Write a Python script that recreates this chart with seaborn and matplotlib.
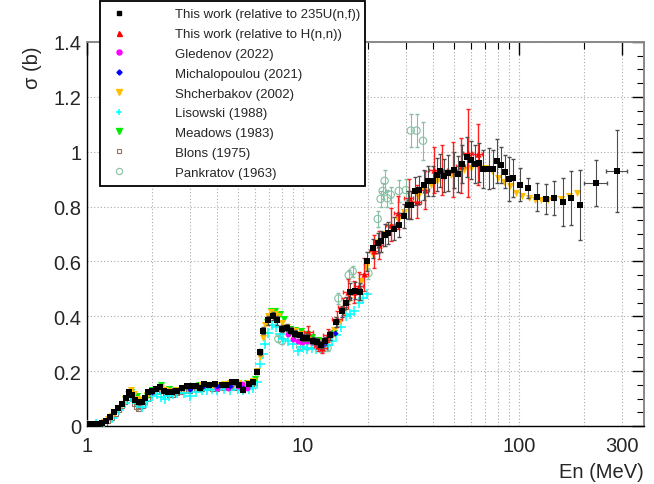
import numpy as np
import pandas as pd
import matplotlib
matplotlib.use("Agg")
import matplotlib.pyplot as plt
import matplotlib.ticker as mticker
from matplotlib.lines import Line2D
import seaborn as sns

# ---- data (E in MeV, sigma in b) ----
# This work (relative to 235U(n,f))
e_bk = [1.01, 1.06, 1.12, 1.17, 1.22, 1.28, 1.33, 1.39, 1.45, 1.52,
        1.57, 1.62, 1.67, 1.74, 1.80, 1.86, 1.92, 2.0, 2.09, 2.18,
        2.28, 2.38, 2.48, 2.62, 2.76, 2.91, 3.04, 3.2, 3.35, 3.49,
        3.68, 3.93, 4.23, 4.42, 4.7, 4.92, 5.07, 5.3, 5.6, 5.9,
        6.1, 6.35, 6.56, 6.9, 7.28, 7.6, 8.0, 8.47, 8.85, 9.2,
        9.7, 10.04, 10.5, 11.1, 11.6, 12.1, 12.6, 13.4, 14.3, 15.1,
        15.8, 16.6, 17.5, 18.3, 19.9, 21.2, 22.2, 22.9, 23.9, 24.9,
        26.3, 27.8, 29.3, 30.6, 31.7, 33.0, 34.4, 36.3, 37.8, 40.0,
        41.7, 43.3, 45.2, 47.2, 49.9, 52.0, 54.3, 57.4, 60.0, 62.6,
        65.4, 68.6, 72.6, 75.8, 79.1, 82.7, 86.3, 89.9, 93.9, 101,
        110, 121, 133, 145, 160, 175, 192, 228, 285]
s_bk = [0.007, 0.007, 0.007, 0.011, 0.018, 0.033, 0.051, 0.066, 0.081, 0.103,
        0.125, 0.113, 0.095, 0.088, 0.088, 0.103, 0.125, 0.128, 0.136, 0.143,
        0.128, 0.125, 0.125, 0.128, 0.139, 0.146, 0.146, 0.146, 0.139, 0.154,
        0.150, 0.154, 0.150, 0.148, 0.161, 0.161, 0.150, 0.132, 0.154, 0.161,
        0.198, 0.270, 0.348, 0.385, 0.400, 0.385, 0.355, 0.359, 0.348, 0.337,
        0.330, 0.322, 0.322, 0.311, 0.308, 0.297, 0.311, 0.330, 0.380, 0.418,
        0.447, 0.490, 0.494, 0.490, 0.600, 0.648, 0.667, 0.674, 0.696, 0.703,
        0.720, 0.733, 0.766, 0.806, 0.806, 0.857, 0.861, 0.879, 0.894, 0.894,
        0.916, 0.930, 0.912, 0.923, 0.934, 0.919, 0.956, 0.980, 0.970, 0.956,
        0.960, 0.938, 0.938, 0.938, 0.967, 0.952, 0.927, 0.900, 0.905, 0.879,
        0.868, 0.835, 0.828, 0.831, 0.817, 0.831, 0.806, 0.886, 0.930]
d_bk = [0.004, 0.004, 0.004, 0.004, 0.004, 0.005, 0.005, 0.005, 0.005, 0.006,
        0.006, 0.006, 0.006, 0.006, 0.006, 0.006, 0.006, 0.006, 0.006, 0.006,
        0.006, 0.006, 0.006, 0.006, 0.006, 0.006, 0.006, 0.006, 0.006, 0.006,
        0.006, 0.006, 0.006, 0.006, 0.006, 0.006, 0.006, 0.007, 0.007, 0.008,
        0.010, 0.012, 0.014, 0.015, 0.015, 0.015, 0.014, 0.014, 0.013, 0.013,
        0.013, 0.013, 0.013, 0.013, 0.013, 0.014, 0.015, 0.016, 0.018, 0.020,
        0.022, 0.030, 0.030, 0.032, 0.035, 0.035, 0.038, 0.038, 0.040, 0.040,
        0.042, 0.045, 0.045, 0.050, 0.050, 0.050, 0.050, 0.055, 0.055, 0.055,
        0.060, 0.060, 0.060, 0.065, 0.065, 0.065, 0.070, 0.073, 0.070, 0.070,
        0.070, 0.070, 0.075, 0.070, 0.080, 0.065, 0.060, 0.080, 0.070, 0.060,
        0.037, 0.050, 0.056, 0.062, 0.088, 0.100, 0.128, 0.085, 0.150]
xlo_bk = [0.0] * 107 + [28, 31]
xhi_bk = [0.0] * 107 + [29, 32]

# This work (relative to H(n,n))
e_rd = [10.6, 11.8, 12.3, 13.1, 14.4, 15.4, 16.1, 17.2, 18.1, 19.1, 21.3, 22.5,
        25.5, 27.7, 30.9, 33.6, 36.6, 40.4, 44.3, 49.5, 53.7, 57.9, 64.5]
s_rd = [0.344, 0.293, 0.285, 0.330, 0.390, 0.435, 0.490, 0.490, 0.510, 0.553, 0.637, 0.660,
        0.733, 0.777, 0.830, 0.817, 0.860, 0.934, 0.934, 0.934, 0.949, 0.996, 0.990]
d_rd = [0.020, 0.020, 0.020, 0.025, 0.030, 0.030, 0.045, 0.040, 0.050, 0.060, 0.060, 0.050,
        0.060, 0.060, 0.070, 0.060, 0.070, 0.085, 0.090, 0.100, 0.100, 0.160, 0.110]
dx_rd = [0.5, 0.6, 0.6, 0.65, 0.7, 0.8, 0.8, 0.9, 0.9, 1.0, 1.1, 1.1,
         1.3, 1.4, 1.5, 1.7, 1.8, 2.0, 2.2, 2.5, 2.7, 2.9, 3.2]

# Gledenov (2022)
e_gl = [4.0, 4.5, 5.0, 5.25, 5.5, 8.5, 9.0, 9.5, 9.9, 10.5, 11.0, 11.5]
s_gl = [0.140, 0.140, 0.145, 0.154, 0.140, 0.335, 0.318, 0.310, 0.308, 0.310, 0.305, 0.300]

# Michalopoulou (2021)
e_mi = [2.0, 2.5, 3.0, 3.4, 4.0, 4.6, 5.3, 12.5, 14.1, 16.3]
s_mi = [0.125, 0.130, 0.135, 0.143, 0.145, 0.145, 0.140, 0.300, 0.340, 0.465]

# Shcherbakov (2002)
e_sh = [1.0, 1.05, 1.1, 1.15, 1.2, 1.25, 1.3, 1.35, 1.4, 1.45, 1.5, 1.55, 1.6, 1.65,
        1.7, 1.75, 1.8, 1.9, 2.0, 2.1, 2.2, 2.3, 2.4, 2.5, 2.6, 2.8, 3.0, 3.2, 3.4,
        3.6, 3.8, 4.0, 4.3, 4.6, 5.0, 5.3, 5.6, 5.9, 6.1, 6.3, 6.5, 6.7, 6.9, 7.1,
        7.4, 7.7, 8.0, 8.4, 8.8, 9.2, 9.7, 10.2, 10.8, 11.4, 12.0, 12.6, 13.2, 13.9,
        14.7, 15.5, 16.4, 17.4, 18.5, 19.7, 21.0, 22.4, 24.0, 25.7, 27.5, 29.5, 31.7,
        34.0, 36.5, 39.2, 42.0, 45.0, 48.5, 52.0, 56.0, 60.0, 65.0, 70.0, 75.0, 80.0,
        85.0, 91.0, 97.0, 104.0, 111.0, 119.0, 127.0, 136.0, 146.0, 157.0, 170.0, 185.0]
s_sh = [0.005, 0.005, 0.006, 0.008, 0.014, 0.024, 0.038, 0.052, 0.066, 0.080, 0.100, 0.118, 0.130, 0.118,
        0.100, 0.095, 0.095, 0.112, 0.125, 0.135, 0.140, 0.130, 0.128, 0.128, 0.130, 0.138, 0.142, 0.145, 0.148,
        0.150, 0.150, 0.150, 0.152, 0.155, 0.155, 0.150, 0.155, 0.165, 0.200, 0.250, 0.320, 0.370, 0.400, 0.415,
        0.410, 0.400, 0.375, 0.360, 0.350, 0.345, 0.335, 0.325, 0.315, 0.305, 0.300, 0.305, 0.320, 0.350,
        0.380, 0.420, 0.460, 0.490, 0.530, 0.580, 0.630, 0.670, 0.700, 0.725, 0.750, 0.780, 0.810,
        0.840, 0.860, 0.880, 0.895, 0.905, 0.915, 0.925, 0.935, 0.940, 0.945, 0.940, 0.930, 0.905,
        0.890, 0.875, 0.850, 0.840, 0.830, 0.825, 0.824, 0.823, 0.826, 0.828, 0.838, 0.850]

# Lisowski (1988)
e_ls = [1.0, 1.1, 1.2, 1.3, 1.4, 1.5, 1.6, 1.7, 1.8, 1.9, 2.0, 2.1, 2.2, 2.3, 2.4, 2.5, 2.6,
        2.8, 3.0, 3.2, 3.4, 3.6, 3.8, 4.0, 4.3, 4.6, 5.0, 5.3, 5.6, 5.9, 6.15, 6.35, 6.5,
        6.7, 6.9, 7.2, 7.5, 7.8, 8.1, 8.5, 9.0, 9.5, 10.0, 10.5, 11.0, 11.5, 12.0, 12.5,
        13.0, 13.6, 14.2, 15.0, 15.8, 16.5, 17.3, 18.2, 19.0, 19.8]
s_ls = [0.005, 0.006, 0.010, 0.030, 0.060, 0.085, 0.105, 0.085, 0.070, 0.090, 0.110, 0.115, 0.105, 0.100, 0.110, 0.115, 0.120,
        0.120, 0.110, 0.125, 0.130, 0.130, 0.135, 0.130, 0.135, 0.130, 0.135, 0.130, 0.135, 0.140, 0.160, 0.227, 0.264,
        0.300, 0.340, 0.370, 0.360, 0.335, 0.318, 0.311, 0.300, 0.275, 0.289, 0.280, 0.286, 0.280, 0.285, 0.290,
        0.297, 0.311, 0.330, 0.360, 0.400, 0.410, 0.418, 0.447, 0.465, 0.480]

# Meadows (1983)
e_md = [1.5, 1.6, 1.7, 1.8, 1.9, 2.0, 2.2, 2.4, 2.6, 2.8, 3.0, 3.3, 3.6, 4.0, 4.5, 5.0, 5.5,
        6.0, 6.5, 6.8, 7.1, 7.4, 7.8, 8.2, 8.7, 9.2, 9.8, 10.4, 11.0, 11.7, 12.4, 13.2, 14.0]
s_md = [0.100, 0.125, 0.110, 0.095, 0.110, 0.130, 0.150, 0.135, 0.130, 0.140, 0.145, 0.148, 0.150, 0.150, 0.152, 0.155, 0.155,
        0.170, 0.330, 0.380, 0.420, 0.420, 0.410, 0.390, 0.355, 0.350, 0.345, 0.335, 0.325, 0.315, 0.310, 0.320, 0.340]

# Blons (1975)
e_bl = [1.0, 1.05, 1.1, 1.15, 1.2, 1.25, 1.3, 1.35, 1.4, 1.45, 1.5, 1.55, 1.6, 1.63, 1.66, 1.7,
        1.73, 1.76, 1.8, 1.85, 1.9, 1.95, 2.0, 2.1, 2.2, 2.3, 2.4, 2.5, 2.6, 2.7, 2.8, 2.9,
        3.0, 3.2, 3.4, 3.6, 3.8, 4.0, 4.2, 4.4, 4.6, 4.8, 5.0, 5.2, 5.4, 5.6, 5.8, 6.0]
s_bl = [0.003, 0.003, 0.004, 0.006, 0.010, 0.018, 0.030, 0.045, 0.060, 0.075, 0.090, 0.105, 0.120, 0.100, 0.080, 0.070,
        0.065, 0.070, 0.075, 0.090, 0.100, 0.115, 0.120, 0.125, 0.130, 0.120, 0.115, 0.115, 0.120, 0.125, 0.130, 0.130,
        0.130, 0.135, 0.135, 0.140, 0.135, 0.135, 0.140, 0.140, 0.140, 0.140, 0.145, 0.140, 0.145, 0.150, 0.155, 0.160]

# Pankratov (1963)
e_pk = [7.7, 8.0, 9.7, 10.5, 12.3, 13.0, 14.6, 16.3, 17.0, 20.1, 22.2, 22.9, 23.4, 23.9,
        24.6, 25.5, 27.8, 30.0, 31.6, 33.6, 36.0]
s_pk = [0.318, 0.310, 0.290, 0.290, 0.280, 0.285, 0.465, 0.550, 0.564, 0.557, 0.755, 0.828, 0.857, 0.894,
        0.830, 0.843, 0.857, 0.860, 1.077, 1.077, 1.040]
d_pk = [0.010, 0.010, 0.010, 0.010, 0.010, 0.010, 0.020, 0.020, 0.020, 0.020, 0.030, 0.030, 0.030, 0.040,
        0.030, 0.030, 0.040, 0.040, 0.060, 0.060, 0.070]

labels = ["This work (relative to 235U(n,f))", "This work (relative to H(n,n))",
          "Gledenov (2022)", "Michalopoulou (2021)", "Shcherbakov (2002)",
          "Lisowski (1988)", "Meadows (1983)", "Blons (1975)", "Pankratov (1963)"]
x_ticks = [1, 10, 100, 300]
x_tick_labels = ["1", "10", "100", "300"]

# ---- style ----
sns.set_theme(style="white")
plt.rcParams["font.family"] = ["Liberation Sans", "DejaVu Sans"]

c_orange = "#ffbf00"
c_brown = "#8c7363"
c_pank = "#86bfa3"

fig = plt.figure(figsize=(6.54, 4.85), dpi=100)
ax = fig.add_axes([87 / 654, 58 / 485, 557 / 654, 384 / 485])


def scatter(x, y, **kw):
    df = pd.DataFrame({"E": x, "s": y})
    sns.scatterplot(data=df, x="E", y="s", ax=ax, legend=False, **kw)


# Blons
scatter(e_bl, s_bl, marker="s", s=12, color=c_brown, facecolor="none",
        edgecolor=c_brown, linewidth=0.8, zorder=2)
ax.errorbar(e_bl, s_bl, yerr=0.012, fmt="none", ecolor=c_brown, elinewidth=1.5, alpha=0.5, zorder=2)
# Pankratov
ax.errorbar(e_pk, s_pk, yerr=d_pk, fmt="none", ecolor=c_pank, elinewidth=0.8, capsize=1.5, zorder=2)
scatter(e_pk, s_pk, marker="o", s=28, color=c_pank, facecolor="none",
        edgecolor=c_pank, linewidth=0.8, zorder=2)
# Lisowski
scatter(e_ls, s_ls, marker="+", s=45, color="#00ffff", linewidth=1.1, zorder=3)
# Meadows
scatter(e_md, s_md, marker="v", s=26, color="#00ee00", edgecolor="#00ee00", linewidth=0, zorder=3)
# Shcherbakov
scatter(e_sh, s_sh, marker="v", s=26, color=c_orange, edgecolor=c_orange, linewidth=0, zorder=4)
# Gledenov
scatter(e_gl, s_gl, marker="o", s=18, color="#ff00ff", edgecolor="#ff00ff", linewidth=0, zorder=4)
# Michalopoulou
scatter(e_mi, s_mi, marker="D", s=10, color="#0000ff", edgecolor="#0000ff", linewidth=0, zorder=4)
# This work H(n,n)
ax.errorbar(e_rd, s_rd, yerr=d_rd, xerr=dx_rd, fmt="none", ecolor="#ff2020",
            elinewidth=1.0, capsize=1.5, zorder=5)
scatter(e_rd, s_rd, marker="^", s=20, color="#ff0000", edgecolor="#ff0000", linewidth=0, zorder=5)
# This work 235U(n,f)
ax.errorbar(e_bk, s_bk, yerr=d_bk, xerr=[xlo_bk, xhi_bk], fmt="none", ecolor="0.3",
            elinewidth=0.8, capsize=1.5, zorder=6)
scatter(e_bk, s_bk, marker="s", s=18, color="black", edgecolor="black", linewidth=0, zorder=7)

# ---- axes ----
ax.set_xscale("log")
ax.set_xlim(1, 380)
ax.set_ylim(0, 1.4)
ax.set_xticks(x_ticks)
ax.set_xticklabels(x_tick_labels)
ax.xaxis.set_minor_locator(mticker.FixedLocator(
    [2, 3, 4, 5, 6, 7, 8, 9, 20, 30, 40, 50, 60, 70, 80, 90, 200]))
ax.xaxis.set_minor_formatter(mticker.NullFormatter())
ax.yaxis.set_major_locator(mticker.MultipleLocator(0.2))
ax.yaxis.set_minor_locator(mticker.MultipleLocator(0.05))
ax.yaxis.set_major_formatter(mticker.FuncFormatter(lambda v, p: f"{v:g}"))
ax.tick_params(which="both", direction="in", top=True, right=True, labelsize=14.5,
               color="black")
ax.tick_params(axis="y", pad=4)
ax.tick_params(axis="x", pad=7)
ax.tick_params(which="major", length=9, width=1.0)
ax.tick_params(which="minor", length=5, width=0.8)
ax.grid(True, which="major", axis="y", color="#aaaaaa", linestyle=(0, (1, 2)), linewidth=0.8)
ax.grid(True, which="both", axis="x", color="#aaaaaa", linestyle=(0, (1, 2)), linewidth=0.8)
ax.set_axisbelow(True)
for side in ["left", "bottom"]:
    ax.spines[side].set_color("black")
    ax.spines[side].set_linewidth(1.0)
for side in ["right", "top"]:
    ax.spines[side].set_color("#888888")
    ax.spines[side].set_linewidth(1.4)

ax.set_xlabel("En (MeV)", fontsize=14.5, loc="right")
ax.set_ylabel("σ (b)", fontsize=14.5, loc="top")
ax.xaxis.set_label_coords(1.0, -0.095)
ax.yaxis.set_label_coords(-0.08, 0.99)

# ---- legend ----
handles = [
    Line2D([], [], ls="none", marker="s", ms=3.2, color="black"),
    Line2D([], [], ls="none", marker="^", ms=3.6, color="#ff0000"),
    Line2D([], [], ls="none", marker="o", ms=3.6, color="#ff00ff"),
    Line2D([], [], ls="none", marker="D", ms=2.6, color="#0000ff"),
    Line2D([], [], ls="none", marker="v", ms=3.8, color=c_orange),
    Line2D([], [], ls="none", marker="+", ms=5, mew=1.1, color="#00ffff"),
    Line2D([], [], ls="none", marker="v", ms=3.8, color="#00ee00"),
    Line2D([], [], ls="none", marker="s", ms=3.2, mfc="none", mew=0.8, color=c_brown),
    Line2D([], [], ls="none", marker="o", ms=4.5, mfc="none", mew=0.8, color=c_pank),
]
leg = fig.legend(handles, labels, loc="upper left",
                 bbox_to_anchor=(100 / 654, 0, 265 / 654, 1 - 2 / 485),
                 mode="expand", borderaxespad=0, fontsize=9.5, frameon=True,
                 fancybox=False, shadow=False, labelspacing=0.57,
                 handlelength=1.8, handletextpad=3.3, borderpad=0.55)
leg.get_frame().set_edgecolor("black")
leg.get_frame().set_linewidth(1.3)
leg.get_frame().set_facecolor("white")
leg.get_frame().set_alpha(1)

fig.savefig("out.png", dpi=100)
